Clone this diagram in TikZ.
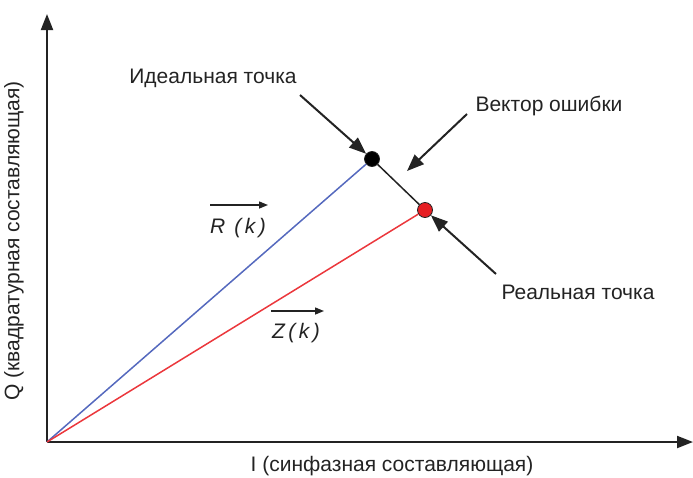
\documentclass[tikz,border=0pt]{standalone}
\usepackage{fontspec}
\setmainfont{Liberation Sans}
\usetikzlibrary{arrows.meta}
\definecolor{axisgray}{RGB}{35,35,35}
\definecolor{vblue}{RGB}{85,105,190}
\definecolor{vred}{RGB}{235,55,60}
\definecolor{pred}{RGB}{230,30,35}
\begin{document}
\begin{tikzpicture}[x=1pt,y=-1pt,
  axis/.style={draw=axisgray,line width=2pt,-{Triangle[length=16pt,width=12pt]}},
  callout/.style={draw=axisgray,line width=2pt,-{Triangle[length=17pt,width=13pt]}},
  lbl/.style={font=\fontsize{21}{24}\selectfont,text=axisgray,inner sep=0pt},
  dot/.style={circle,draw=axisgray,line width=0.8pt,minimum size=15pt,inner sep=0pt},
  overarrow/.style={draw=axisgray,line width=1.4pt,-{Triangle[length=9pt,width=7pt]}}]
\useasboundingbox (0,0) rectangle (693,477);
% axes
\coordinate (O) at (47,442);
\coordinate (ytop) at (47,14);
\coordinate (xend) at (693,442);
\draw[axis] (O) -- (ytop);
\draw[axis] (O) -- (xend);
% points
\node[dot,fill=black] (ideal) at (372,159) {};
\node[dot,fill=pred] (real) at (425,210) {};
% vectors
\draw[vblue,line width=1.5pt] (O) -- (ideal);
\draw[vred,line width=1.5pt] (O) -- (real);
\draw[axisgray,line width=1.5pt] (ideal) -- (real);
% labels
\node[lbl] (lideal) at (213,78) {Идеальная точка};
\node[lbl] (lerr) at (549,106) {Вектор ошибки};
\node[lbl] (lreal) at (578,292) {Реальная точка};
\coordinate (aideal) at (300,95);
\coordinate (aerr) at (467,114);
\coordinate (aerrend) at (407,171);
\coordinate (areal) at (496,274);
\draw[callout] (aideal) -- (ideal);
\draw[callout] (aerr) -- (aerrend);
\draw[callout] (areal) -- (real);
% R(k), Z(k)
\node[lbl] (Rk) at (238,228) {\itshape R\, (\,k\,)};
\coordinate (Ra) at (210,205);
\coordinate (Rb) at (268,205);
\draw[overarrow] (Ra) -- (Rb);
\node[lbl] (Zk) at (296,333) {\itshape Z\,(\,k\,)};
\coordinate (Za) at (271,311);
\coordinate (Zb) at (324,311);
\draw[overarrow] (Za) -- (Zb);
% axis labels
\node[lbl,rotate=90] (qlab) at (14,241) {Q (квадратурная составляющая)};
\node[lbl] (ilab) at (392,466) {I (синфазная составляющая)};
\end{tikzpicture}
\end{document}
